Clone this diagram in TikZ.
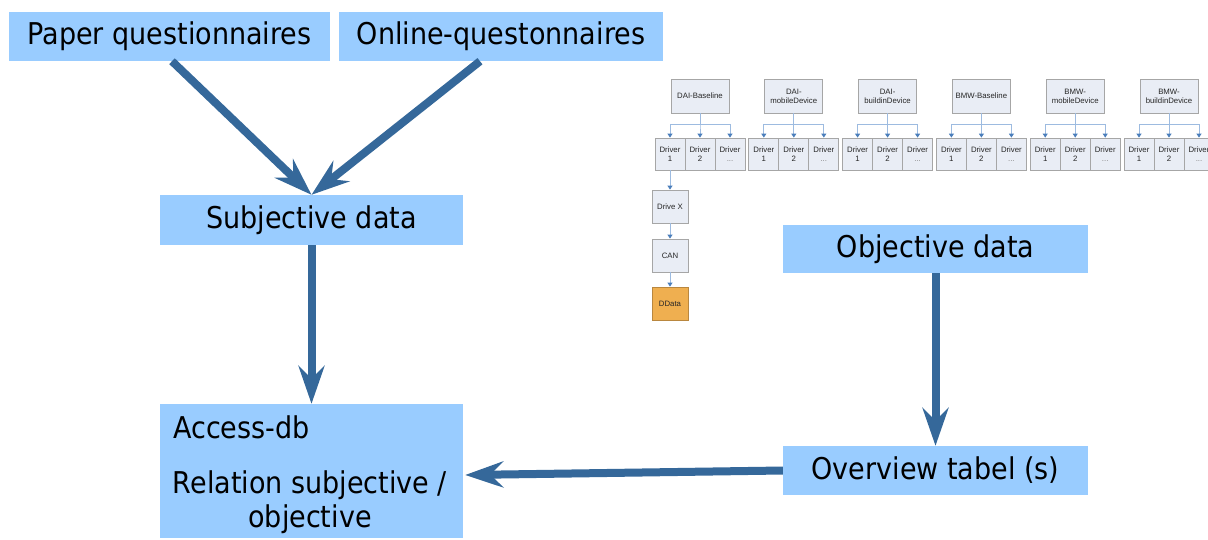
\documentclass[tikz,border=0pt]{standalone}
\usepackage{fontspec}
\newfontfamily\bigf[FakeStretch=0.9]{DejaVu Sans}
\newfontfamily\smallf{Liberation Sans}
\usetikzlibrary{arrows.meta,calc}
\definecolor{boxblue}{HTML}{99CCFF}
\definecolor{arrblue}{HTML}{35689A}
\definecolor{tfill}{HTML}{E9EDF5}
\definecolor{tdraw}{HTML}{A6A6A6}
\definecolor{tline}{HTML}{9DBBE0}
\definecolor{ttip}{HTML}{4A7EBB}
\definecolor{dfill}{HTML}{EFAF50}
\definecolor{ddraw}{HTML}{B9873F}
\newcommand\drvdots{{\color{gray}...}}
\begin{document}
\begin{tikzpicture}[x=1pt,y=-1pt,
  bigbox/.style={fill=boxblue, draw=none, inner sep=0pt, font=\bigf\fontsize{30}{34}\selectfont},
  bigtext/.style={inner sep=0pt, font=\bigf\fontsize{30}{34}\selectfont},
  bigarrow/.style={draw=arrblue, line width=8pt, -{Stealth[length=38pt,width=26pt,inset=13pt]}},
  tbox/.style={draw=tdraw, fill=tfill, line width=0.8pt, inner sep=0pt, align=center,
    font=\smallf\fontsize{7.8}{9}\selectfont, text=black!85},
  tconn/.style={draw=tline, line width=0.9pt, -{Triangle[length=4pt,width=5pt,color=ttip]}}
]
\useasboundingbox (0,0) rectangle (1208,539);
\fill[white] (0,0) rectangle (1208,539);

% big boxes
\node[bigbox, minimum width=321pt, minimum height=49pt] (paper) at (169.5,36.5) {Paper questionnaires};
\node[bigbox, minimum width=324pt, minimum height=49pt] (online) at (501,36.5) {Online-questonnaires};
\node[bigbox, minimum width=303pt, minimum height=50pt] (subj) at (311.5,220) {Subjective data};
\node[bigbox, minimum width=303pt, minimum height=134pt] (access) at (311.5,471) {};
\node[bigtext, anchor=base west] (accdb) at (173,438) {Access-db};
\node[bigtext, anchor=base] (rel1) at (310,493) {Relation subjective /};
\node[bigtext, anchor=base] (rel2) at (310,527) {objective};
\node[bigbox, minimum width=305pt, minimum height=48pt] (obj) at (935.5,249) {Objective data};
\node[bigbox, minimum width=305pt, minimum height=49pt] (over) at (935.5,470.5) {Overview tabel (s)};

% big arrows
\draw[bigarrow] ([xshift=2.5pt]paper.south) -- (subj.north);
\draw[bigarrow] ([xshift=-21pt]online.south) -- (subj.north);
\draw[bigarrow] (subj.south) -- (access.north);
\draw[bigarrow] (obj.south) -- (over.north);
\draw[bigarrow] (over.west) -- ([xshift=2pt,yshift=-4pt]access.east);

% small tree
\foreach \g/\lab in {0/{DAI-Baseline},1/{DAI-\\mobileDevice},2/{DAI-\\buildinDevice},3/{BMW-Baseline},4/{BMW-\\mobileDevice},5/{BMW-\\buildinDevice}}{
  \pgfmathsetmacro{\gx}{655+93.8*\g}
  \node[tbox, minimum width=58pt, minimum height=34pt] (p\g) at (\gx+45,96) {\lab};
  \foreach \k/\t in {0/1,1/2,2/\drvdots}{
    \node[tbox, minimum width=30pt, minimum height=32pt] (d\g\k) at (\gx+15+30*\k,154) {Driver\\\t};
    \draw[tconn] (p\g.south) -- ++(0,11) -| (d\g\k.north);
  }
}
\node[tbox, minimum width=36pt, minimum height=33pt] (dx) at (670,206.5) {Drive X};
\node[tbox, minimum width=36pt, minimum height=33pt] (can) at (670,255.5) {CAN};
\node[tbox, fill=dfill, draw=ddraw, minimum width=36pt, minimum height=33pt] (dd) at (670,303.5) {DData};
\draw[tconn] (d00.south) -- (dx.north);
\draw[tconn] (dx.south) -- (can.north);
\draw[tconn] (can.south) -- (dd.north);
\end{tikzpicture}
\end{document}
